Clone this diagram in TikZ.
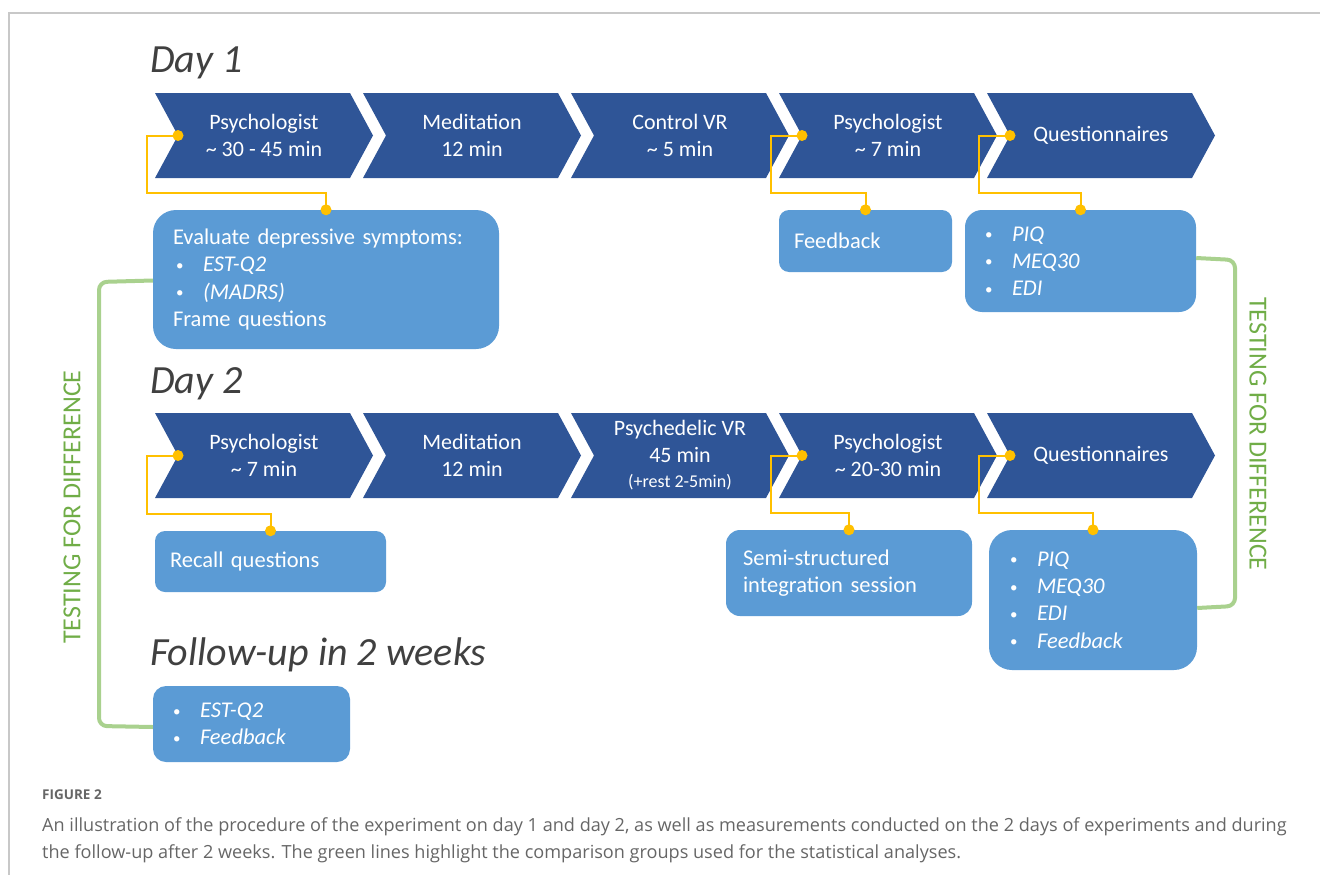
\documentclass[tikz,border=0pt]{standalone}
\usepackage{fontspec}
\setmainfont{Carlito}
\newfontfamily\capfont{Open Sans}
\usetikzlibrary{calc}
\definecolor{chevblue}{HTML}{2F5597}
\definecolor{boxblue}{HTML}{5B9BD5}
\definecolor{yel}{HTML}{FFC000}
\definecolor{grnline}{HTML}{A9D18E}
\definecolor{grntext}{HTML}{70AD47}
\definecolor{titlegray}{HTML}{404040}
\definecolor{framegray}{HTML}{C8C8C8}
\definecolor{capgray}{HTML}{666666}
% chevron: x start, y top, flat width, node name, text
\newcommand\mychev[5]{%
  \fill[chevblue] (#1,#2) -- ++(#3,0) -- ++(23,42.5) -- ++(-23,42.5) -- ++(-#3,0) -- ++(23,-42.5) -- cycle;
  \node[chevtext] (#4) at ({#1+#3/2+11.5},{#2+42.5}) {#5};
  \coordinate (#4n) at ({#1+23},{#2+42.5});
}
% box: name, x1, y1, x2, y2, inset, radius, text
\newcommand\mkbox[8]{%
  \pgfmathsetmacro\mybh{#5-#3}%
  \pgfmathsetmacro\mytw{#4-#2-2*#6}%
  \node[infobox, rounded corners=#7pt, inner xsep=#6pt, text width=\mytw pt, minimum height=\mybh pt] (#1) at ({(#2+#4)/2},{(#3+#5)/2}) {#8};
}
\newcommand\itm[1]{\makebox[30pt][l]{\hspace{3pt}\raisebox{1.5pt}{\fontsize{15}{15}\selectfont•}}\textit{#1}}
% yellow connector: notch coordinate, box name
\newcommand\yconn[2]{%
  \draw[yelline] (#1) -- ++(-31,0) |- ($(#2.north)+(0,-16.5)$) -- (#2.north);
  \fill[yel] (#1) circle (5.5pt);
  \fill[yel] (#2.north) circle (5.5pt);
}
\tikzset{
  chevtext/.style={text=white, font=\fontsize{22}{27}\selectfont, align=center, inner sep=0pt},
  infobox/.style={fill=boxblue, text=white, font=\fontsize{22.5}{27.2}\selectfont, align=left, inner ysep=0pt, anchor=center},
  yelline/.style={draw=yel, line width=2pt},
  grn/.style={draw=grnline, line width=4pt, rounded corners=8pt},
  daytitle/.style={text=titlegray, font=\fontsize{40}{44}\selectfont\itshape, anchor=base west, inner sep=0pt},
  testtext/.style={text=grntext, font=\fontsize{26}{30}\selectfont, inner sep=0pt},
  captext/.style={text=capgray, font=\capfont\fontsize{18.1}{20}\selectfont, anchor=base west, inner sep=0pt}
}
\begin{document}
\begin{tikzpicture}[x=1pt,y=-1pt]
\useasboundingbox (0,0) rectangle (1320,875);
% frame
\draw[framegray, line width=1.5pt] (9,875) -- (9,13) -- (1320,13);

% titles
\node[daytitle] (t1) at (150,73) {Day 1};
\node[daytitle] (t2) at (150,393) {Day 2};
\node[daytitle] (t3) at (150,665) {Follow-up in 2 weeks};

% Day 1 chevrons
\mychev{155}{93}{195}{d1a}{Psychologist\\\textasciitilde{} 30 - 45 min}
\mychev{363}{93}{195}{d1b}{Meditation\\12 min}
\mychev{571}{93}{195}{d1c}{Control VR\\\textasciitilde{} 5 min}
\mychev{779}{93}{195}{d1d}{Psychologist\\\textasciitilde{} 7 min}
\mychev{987}{93}{205}{d1e}{Questionnaires}

% Day 2 chevrons
\mychev{155}{413}{195}{d2a}{Psychologist\\\textasciitilde{} 7 min}
\mychev{363}{413}{195}{d2b}{Meditation\\12 min}
\mychev{571}{413}{195}{d2c}{Psychedelic VR\\45 min\\[-2pt]{\fontsize{18}{22}\selectfont (+rest 2-5min)}}
\mychev{779}{413}{195}{d2d}{Psychologist\\\textasciitilde{} 20-30 min}
\mychev{987}{413}{205}{d2e}{Questionnaires}

% boxes
\mkbox{b1a}{153}{210}{499}{349}{20}{23}{Evaluate depressive symptoms:\\\itm{EST-Q2}\\\itm{(MADRS)}\\Frame questions}
\mkbox{b1d}{779}{210}{952}{272}{15}{10}{Feedback}
\mkbox{b1e}{965}{210}{1196}{312}{17}{17}{\itm{PIQ}\\\itm{MEQ30}\\\itm{EDI}}
\mkbox{b2a}{155}{531}{386}{592}{15}{10}{Recall questions}
\mkbox{b2d}{726}{530}{972}{616}{17}{14}{Semi-structured\\integration session}
\mkbox{b2e}{989}{530}{1197}{670}{18}{23}{\itm{PIQ}\\\itm{MEQ30}\\\itm{EDI}\\\itm{Feedback}}
\mkbox{bf}{153}{686}{350}{762}{17}{13}{\itm{EST-Q2}\\\itm{Feedback}}

% yellow connectors
\yconn{d1an}{b1a}
\yconn{d1dn}{b1d}
\yconn{d1en}{b1e}
\yconn{d2an}{b2a}
\yconn{d2dn}{b2d}
\yconn{d2en}{b2e}

% green comparison lines
\draw[grn] ([yshift=-1pt]b1a.west) -- (99,282) -- (99,726) -- ([yshift=-3pt]bf.west);
\draw[grn] ([yshift=3pt]b1e.east) -- (1235,260) -- (1235,606) -- ([yshift=-8pt]b2e.east);
\node[testtext, rotate=90] (tl) at (72,507) {TESTING FOR DIFFERENCE};
\node[testtext, rotate=-90] (tr) at (1258,434) {TESTING FOR DIFFERENCE};

% caption
\node[captext, font=\capfont\bfseries\fontsize{13.5}{17}\selectfont] (c0) at (42,799) {FIGURE 2};
\node[captext] (c1) at (42,831) {An illustration of the procedure of the experiment on day 1 and day 2, as well as measurements conducted on the 2 days of experiments and during};
\node[captext] (c2) at (42,858) {the follow-up after 2 weeks. The green lines highlight the comparison groups used for the statistical analyses.};
\end{tikzpicture}
\end{document}
